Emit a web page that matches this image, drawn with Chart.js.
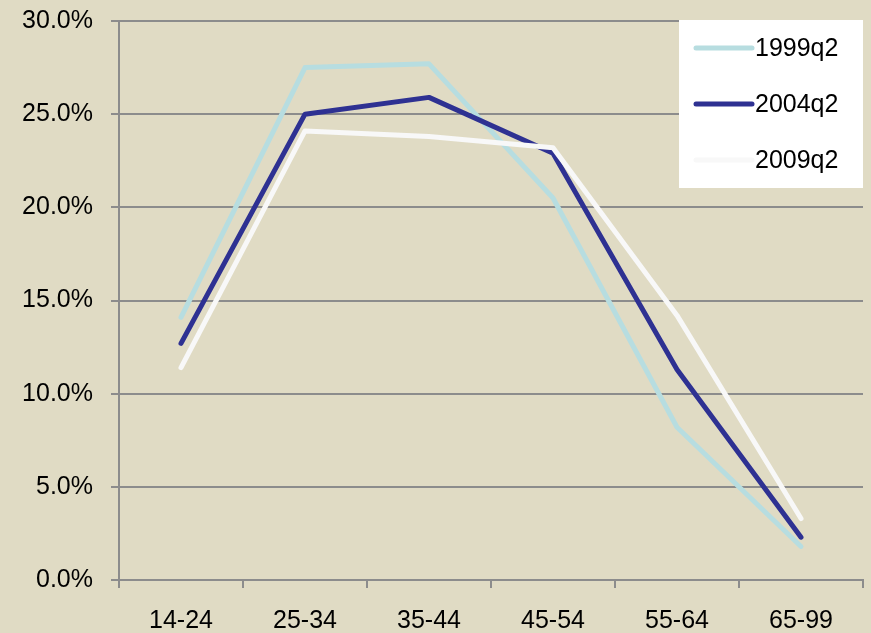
<!DOCTYPE html>
<html>
<head>
  <meta charset="utf-8">
  <script src="https://cdn.jsdelivr.net/npm/chart.js"></script>
  <style>
    html, body { margin: 0; padding: 0; background: #e0dbc4; }
    .chart-container { position: relative; width: 871px; height: 633px; }
  </style>
</head>
<body>
  <div class="chart-container">
    <canvas id="myLineChart"></canvas>
  </div>
<script>
"use strict";
// age groups and share of employment per quarter (%)
const ageGroups = ['14-24', '25-34', '35-44', '45-54', '55-64', '65-99'];
const share1999 = [14.1, 27.5, 27.7, 20.5, 8.2, 1.8];
const share2004 = [12.7, 25.0, 25.9, 22.9, 11.3, 2.3];
const share2009 = [11.4, 24.1, 23.8, 23.2, 14.2, 3.3];
const seriesNames = ['1999q2', '2004q2', '2009q2'];
const seriesColors = ['#b7dde0', '#2e3192', '#f8f8f8'];
const yTicks = [0, 5, 10, 15, 20, 25, 30];

const gridColor = '#8c8c8c';
const font = { family: 'Liberation Sans, Arial, sans-serif', size: 25 };

// white legend box drawn inside the plot area, top right
const boxLegend = {
  id: 'boxLegend',
  afterDatasetsDraw(chart) {
    const c = chart.ctx;
    const area = chart.chartArea;
    const x0 = area.right - 184, y0 = area.top - 1;
    c.save();
    c.fillStyle = '#ffffff';
    c.fillRect(x0, y0, 184, 168);
    c.font = font.size + 'px ' + font.family;
    c.textBaseline = 'middle';
    chart.data.datasets.forEach(function(ds, i) {
      const y = y0 + 28 + i * 56;
      c.strokeStyle = ds.borderColor;
      c.lineWidth = 5;
      c.lineCap = 'round';
      c.beginPath();
      c.moveTo(x0 + 17, y);
      c.lineTo(x0 + 73, y);
      c.stroke();
      c.fillStyle = '#000000';
      c.fillText(ds.label, x0 + 76, y + 1);
    });
    c.restore();
  }
};

const makeSet = function(i, values) {
  return {
    label: seriesNames[i],
    data: values,
    borderColor: seriesColors[i],
    backgroundColor: seriesColors[i],
    borderWidth: 5,
    borderCapStyle: 'round',
    borderJoinStyle: 'round',
    pointRadius: 0,
    tension: 0,
    order: 3 - i
  };
};

new Chart(document.getElementById('myLineChart'), {
  type: 'line',
  data: {
    labels: ageGroups,
    datasets: [makeSet(0, share1999), makeSet(1, share2004), makeSet(2, share2009)]
  },
  options: {
    responsive: true,
    maintainAspectRatio: false,
    animation: false,
    layout: { padding: { top: 21, right: 8, left: 0, bottom: 0 } },
    plugins: { legend: { display: false }, tooltip: { enabled: false } },
    scales: {
      x: {
        offset: true,
        afterFit: function(s) { s.height = 53; s.paddingLeft = 0; s.paddingRight = 0; },
        grid: { offset: true, drawOnChartArea: false, tickLength: 8, color: gridColor, lineWidth: 2 },
        border: { color: gridColor, width: 2 },
        ticks: { color: '#000', font: font, padding: 18, maxRotation: 0 }
      },
      y: {
        min: 0,
        max: 30,
        afterFit: function(s) { s.width = 119; s.paddingTop = 0; s.paddingBottom = 0; },
        afterBuildTicks: function(s) { s.ticks = yTicks.map(v => ({ value: v })); },
        grid: { tickLength: 8, color: gridColor, lineWidth: 2 },
        border: { color: gridColor, width: 2 },
        ticks: {
          color: '#000',
          font: font,
          padding: 18,
          callback: v => v.toFixed(1) + '%'
        }
      }
    }
  },
  plugins: [boxLegend]
});
</script>
</body>
</html>
